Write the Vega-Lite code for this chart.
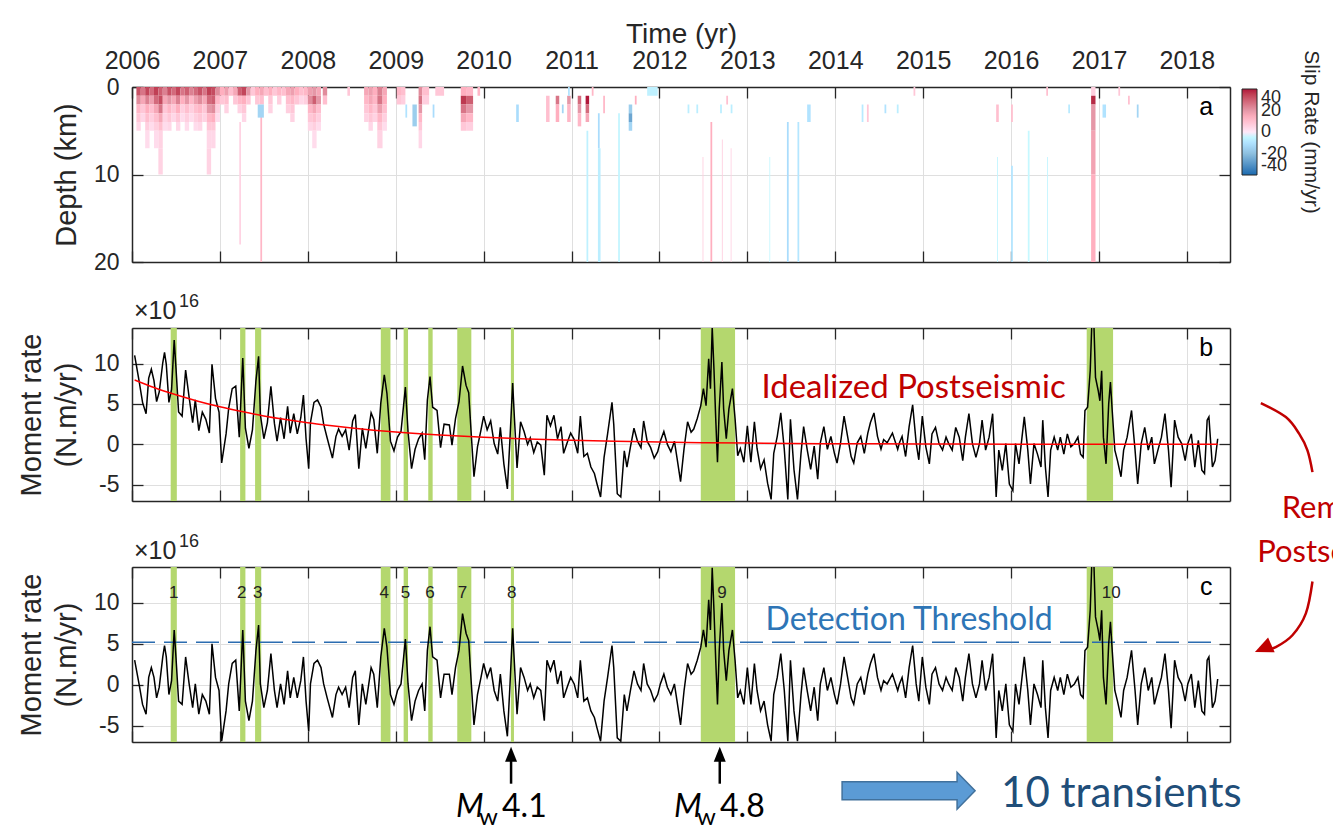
{
  "$schema": "https://vega.github.io/schema/vega-lite/v6.json",
  "background": "white",
  "autosize": {"type": "pad"},
  "padding": {"left": 17, "top": 20, "right": 0, "bottom": 0},
  "config": {
    "font": "Liberation Sans",
    "view": {"stroke": null},
    "axis": {
      "domain": true, "domainColor": "#262626", "domainWidth": 1.5,
      "tickColor": "#262626", "tickSize": -11, "tickWidth": 1.3,
      "gridColor": "#dfdfdf", "gridWidth": 1,
      "labelColor": "#262626", "labelFont": "Liberation Sans",
      "titleColor": "#262626", "titleFont": "Liberation Sans", "titleFontWeight": "normal",
      "labelFlush": false, "labelOverlap": false, "zindex": 1
    }
  },
  "spacing": 66,
  "bounds": "flush",
  "resolve": {"scale": {"color": "independent"}, "legend": {"color": "independent"}},
  "datasets": {
    "slip": [
      {"t0":2006.05,"t1":2006.1,"d0":0,"d1":1,"v":32},{"t0":2006.05,"t1":2006.1,"d0":1,"d1":2,"v":22},{"t0":2006.05,"t1":2006.1,"d0":2,"d1":3,"v":12},{"t0":2006.05,"t1":2006.1,"d0":3,"d1":4,"v":8},{"t0":2006.05,"t1":2006.1,"d0":4,"d1":5,"v":4},
      {"t0":2006.1,"t1":2006.15,"d0":0,"d1":1,"v":26},{"t0":2006.1,"t1":2006.15,"d0":1,"d1":2,"v":16},{"t0":2006.1,"t1":2006.15,"d0":2,"d1":3,"v":8},{"t0":2006.1,"t1":2006.15,"d0":3,"d1":4,"v":4},
      {"t0":2006.15,"t1":2006.2,"d0":0,"d1":1,"v":34},{"t0":2006.15,"t1":2006.2,"d0":1,"d1":2,"v":24},{"t0":2006.15,"t1":2006.2,"d0":2,"d1":3,"v":14},{"t0":2006.15,"t1":2006.2,"d0":3,"d1":4,"v":10},{"t0":2006.15,"t1":2006.2,"d0":4,"d1":5,"v":6},{"t0":2006.15,"t1":2006.2,"d0":5,"d1":7,"v":3},
      {"t0":2006.2,"t1":2006.25,"d0":0,"d1":1,"v":28},{"t0":2006.2,"t1":2006.25,"d0":1,"d1":2,"v":18},{"t0":2006.2,"t1":2006.25,"d0":2,"d1":3,"v":10},{"t0":2006.2,"t1":2006.25,"d0":3,"d1":4,"v":6},{"t0":2006.2,"t1":2006.25,"d0":4,"d1":5,"v":3},
      {"t0":2006.25,"t1":2006.3,"d0":0,"d1":1,"v":35},{"t0":2006.25,"t1":2006.3,"d0":1,"d1":2,"v":28},{"t0":2006.25,"t1":2006.3,"d0":2,"d1":3,"v":16},{"t0":2006.25,"t1":2006.3,"d0":3,"d1":4,"v":10},{"t0":2006.25,"t1":2006.3,"d0":4,"d1":5,"v":6},{"t0":2006.25,"t1":2006.3,"d0":5,"d1":7,"v":3},
      {"t0":2006.3,"t1":2006.35,"d0":0,"d1":1,"v":30},{"t0":2006.3,"t1":2006.35,"d0":1,"d1":2,"v":33},{"t0":2006.3,"t1":2006.35,"d0":2,"d1":3,"v":26},{"t0":2006.3,"t1":2006.35,"d0":3,"d1":4,"v":16},{"t0":2006.3,"t1":2006.35,"d0":4,"d1":5,"v":10},{"t0":2006.3,"t1":2006.35,"d0":5,"d1":7,"v":5},{"t0":2006.3,"t1":2006.35,"d0":7,"d1":10,"v":5},
      {"t0":2006.35,"t1":2006.4,"d0":0,"d1":1,"v":24},{"t0":2006.35,"t1":2006.4,"d0":1,"d1":2,"v":16},{"t0":2006.35,"t1":2006.4,"d0":2,"d1":3,"v":8},{"t0":2006.35,"t1":2006.4,"d0":3,"d1":4,"v":5},{"t0":2006.35,"t1":2006.4,"d0":4,"d1":5,"v":3},
      {"t0":2006.4,"t1":2006.45,"d0":0,"d1":1,"v":32},{"t0":2006.4,"t1":2006.45,"d0":1,"d1":2,"v":20},{"t0":2006.4,"t1":2006.45,"d0":2,"d1":3,"v":12},{"t0":2006.4,"t1":2006.45,"d0":3,"d1":4,"v":8},{"t0":2006.4,"t1":2006.45,"d0":4,"d1":5,"v":4},
      {"t0":2006.45,"t1":2006.5,"d0":0,"d1":1,"v":28},{"t0":2006.45,"t1":2006.5,"d0":1,"d1":2,"v":16},{"t0":2006.45,"t1":2006.5,"d0":2,"d1":3,"v":8},{"t0":2006.45,"t1":2006.5,"d0":3,"d1":4,"v":4},
      {"t0":2006.5,"t1":2006.55,"d0":0,"d1":1,"v":34},{"t0":2006.5,"t1":2006.55,"d0":1,"d1":2,"v":24},{"t0":2006.5,"t1":2006.55,"d0":2,"d1":3,"v":14},{"t0":2006.5,"t1":2006.55,"d0":3,"d1":4,"v":8},{"t0":2006.5,"t1":2006.55,"d0":4,"d1":5,"v":4},
      {"t0":2006.55,"t1":2006.6,"d0":0,"d1":1,"v":26},{"t0":2006.55,"t1":2006.6,"d0":1,"d1":2,"v":14},{"t0":2006.55,"t1":2006.6,"d0":2,"d1":3,"v":6},{"t0":2006.55,"t1":2006.6,"d0":3,"d1":4,"v":3},
      {"t0":2006.6,"t1":2006.65,"d0":0,"d1":1,"v":30},{"t0":2006.6,"t1":2006.65,"d0":1,"d1":2,"v":20},{"t0":2006.6,"t1":2006.65,"d0":2,"d1":3,"v":10},{"t0":2006.6,"t1":2006.65,"d0":3,"d1":4,"v":6},{"t0":2006.6,"t1":2006.65,"d0":4,"d1":5,"v":3},
      {"t0":2006.65,"t1":2006.7,"d0":0,"d1":1,"v":24},{"t0":2006.65,"t1":2006.7,"d0":1,"d1":2,"v":12},{"t0":2006.65,"t1":2006.7,"d0":2,"d1":3,"v":6},{"t0":2006.65,"t1":2006.7,"d0":3,"d1":4,"v":3},
      {"t0":2006.7,"t1":2006.75,"d0":0,"d1":1,"v":28},{"t0":2006.7,"t1":2006.75,"d0":1,"d1":2,"v":18},{"t0":2006.7,"t1":2006.75,"d0":2,"d1":3,"v":10},{"t0":2006.7,"t1":2006.75,"d0":3,"d1":4,"v":6},{"t0":2006.7,"t1":2006.75,"d0":4,"d1":5,"v":3},
      {"t0":2006.75,"t1":2006.8,"d0":0,"d1":1,"v":32},{"t0":2006.75,"t1":2006.8,"d0":1,"d1":2,"v":22},{"t0":2006.75,"t1":2006.8,"d0":2,"d1":3,"v":12},{"t0":2006.75,"t1":2006.8,"d0":3,"d1":4,"v":8},{"t0":2006.75,"t1":2006.8,"d0":4,"d1":5,"v":4},
      {"t0":2006.8,"t1":2006.85,"d0":0,"d1":1,"v":26},{"t0":2006.8,"t1":2006.85,"d0":1,"d1":2,"v":16},{"t0":2006.8,"t1":2006.85,"d0":2,"d1":3,"v":8},{"t0":2006.8,"t1":2006.85,"d0":3,"d1":4,"v":5},
      {"t0":2006.85,"t1":2006.9,"d0":0,"d1":1,"v":35},{"t0":2006.85,"t1":2006.9,"d0":1,"d1":2,"v":28},{"t0":2006.85,"t1":2006.9,"d0":2,"d1":3,"v":20},{"t0":2006.85,"t1":2006.9,"d0":3,"d1":4,"v":12},{"t0":2006.85,"t1":2006.9,"d0":4,"d1":5,"v":8},{"t0":2006.85,"t1":2006.9,"d0":5,"d1":7,"v":4},{"t0":2006.85,"t1":2006.9,"d0":7,"d1":10,"v":5},
      {"t0":2006.9,"t1":2006.95,"d0":0,"d1":1,"v":33},{"t0":2006.9,"t1":2006.95,"d0":1,"d1":2,"v":30},{"t0":2006.9,"t1":2006.95,"d0":2,"d1":3,"v":22},{"t0":2006.9,"t1":2006.95,"d0":3,"d1":4,"v":14},{"t0":2006.9,"t1":2006.95,"d0":4,"d1":5,"v":8},{"t0":2006.9,"t1":2006.95,"d0":5,"d1":7,"v":4},
      {"t0":2006.95,"t1":2007.0,"d0":0,"d1":1,"v":22},{"t0":2006.95,"t1":2007.0,"d0":1,"d1":2,"v":12},{"t0":2006.95,"t1":2007.0,"d0":2,"d1":3,"v":6},{"t0":2006.95,"t1":2007.0,"d0":3,"d1":4,"v":3},
      {"t0":2007.0,"t1":2007.05,"d0":0,"d1":1,"v":14},{"t0":2007.0,"t1":2007.05,"d0":1,"d1":2,"v":8},
      {"t0":2007.05,"t1":2007.1,"d0":0,"d1":1,"v":18},{"t0":2007.05,"t1":2007.1,"d0":1,"d1":2,"v":10},{"t0":2007.05,"t1":2007.1,"d0":2,"d1":3,"v":5},
      {"t0":2007.1,"t1":2007.15,"d0":0,"d1":1,"v":10},
      {"t0":2007.15,"t1":2007.2,"d0":0,"d1":1,"v":16},{"t0":2007.15,"t1":2007.2,"d0":1,"d1":2,"v":8},
      {"t0":2007.2,"t1":2007.25,"d0":0,"d1":1,"v":30},{"t0":2007.2,"t1":2007.25,"d0":1,"d1":2,"v":12},{"t0":2007.2,"t1":2007.25,"d0":2,"d1":3,"v":5},
      {"t0":2007.25,"t1":2007.3,"d0":0,"d1":1,"v":34},{"t0":2007.25,"t1":2007.3,"d0":1,"d1":2,"v":14},{"t0":2007.25,"t1":2007.3,"d0":2,"d1":3,"v":8},{"t0":2007.25,"t1":2007.3,"d0":3,"d1":4,"v":4},
      {"t0":2007.3,"t1":2007.35,"d0":0,"d1":1,"v":20},{"t0":2007.3,"t1":2007.35,"d0":1,"d1":2,"v":8},
      {"t0":2007.35,"t1":2007.4,"d0":0,"d1":1,"v":8},
      {"t0":2007.4,"t1":2007.45,"d0":0,"d1":1,"v":14},{"t0":2007.4,"t1":2007.45,"d0":1,"d1":2,"v":8},
      {"t0":2007.45,"t1":2007.5,"d0":0,"d1":1,"v":16},{"t0":2007.45,"t1":2007.5,"d0":1,"d1":2,"v":10},
      {"t0":2007.5,"t1":2007.55,"d0":0,"d1":1,"v":10},
      {"t0":2007.55,"t1":2007.6,"d0":0,"d1":1,"v":14},{"t0":2007.55,"t1":2007.6,"d0":1,"d1":2,"v":8},{"t0":2007.55,"t1":2007.6,"d0":2,"d1":3,"v":5},
      {"t0":2007.6,"t1":2007.65,"d0":0,"d1":1,"v":8},
      {"t0":2007.65,"t1":2007.7,"d0":0,"d1":1,"v":12},{"t0":2007.65,"t1":2007.7,"d0":1,"d1":2,"v":6},
      {"t0":2007.7,"t1":2007.75,"d0":0,"d1":1,"v":10},
      {"t0":2007.75,"t1":2007.8,"d0":0,"d1":1,"v":16},{"t0":2007.75,"t1":2007.8,"d0":1,"d1":2,"v":10},{"t0":2007.75,"t1":2007.8,"d0":2,"d1":3,"v":6},
      {"t0":2007.8,"t1":2007.85,"d0":0,"d1":1,"v":18},{"t0":2007.8,"t1":2007.85,"d0":1,"d1":2,"v":12},{"t0":2007.8,"t1":2007.85,"d0":2,"d1":3,"v":8},{"t0":2007.8,"t1":2007.85,"d0":3,"d1":4,"v":5},
      {"t0":2007.85,"t1":2007.9,"d0":0,"d1":1,"v":14},{"t0":2007.85,"t1":2007.9,"d0":1,"d1":2,"v":8},
      {"t0":2007.9,"t1":2007.95,"d0":0,"d1":1,"v":10},{"t0":2007.9,"t1":2007.95,"d0":1,"d1":2,"v":4},
      {"t0":2007.95,"t1":2008.0,"d0":0,"d1":1,"v":12},{"t0":2007.95,"t1":2008.0,"d0":1,"d1":2,"v":6},
      {"t0":2007.46,"t1":2007.48,"d0":3,"d1":20,"v":12},
      {"t0":2007.22,"t1":2007.24,"d0":4,"d1":18,"v":5},
      {"t0":2007.43,"t1":2007.5,"d0":2,"d1":3.5,"v":-14},
      {"t0":2008.0,"t1":2008.05,"d0":0,"d1":1,"v":18},{"t0":2008.0,"t1":2008.05,"d0":1,"d1":2,"v":22},{"t0":2008.0,"t1":2008.05,"d0":2,"d1":3,"v":12},{"t0":2008.0,"t1":2008.05,"d0":3,"d1":4,"v":8},{"t0":2008.0,"t1":2008.05,"d0":4,"d1":5,"v":4},
      {"t0":2008.05,"t1":2008.1,"d0":0,"d1":1,"v":20},{"t0":2008.05,"t1":2008.1,"d0":1,"d1":2,"v":30},{"t0":2008.05,"t1":2008.1,"d0":2,"d1":3,"v":16},{"t0":2008.05,"t1":2008.1,"d0":3,"d1":4,"v":10},{"t0":2008.05,"t1":2008.1,"d0":4,"d1":5,"v":6},{"t0":2008.05,"t1":2008.1,"d0":5,"d1":7,"v":3},
      {"t0":2008.1,"t1":2008.15,"d0":0,"d1":1,"v":16},{"t0":2008.1,"t1":2008.15,"d0":1,"d1":2,"v":20},{"t0":2008.1,"t1":2008.15,"d0":2,"d1":3,"v":10},{"t0":2008.1,"t1":2008.15,"d0":3,"d1":4,"v":6},{"t0":2008.1,"t1":2008.15,"d0":4,"d1":5,"v":3},
      {"t0":2008.17,"t1":2008.22,"d0":0,"d1":1,"v":22},{"t0":2008.17,"t1":2008.22,"d0":1,"d1":2,"v":10},
      {"t0":2008.45,"t1":2008.48,"d0":0,"d1":1,"v":8},
      {"t0":2008.64,"t1":2008.69,"d0":0,"d1":1,"v":16},{"t0":2008.64,"t1":2008.69,"d0":1,"d1":2,"v":12},{"t0":2008.64,"t1":2008.69,"d0":2,"d1":3,"v":8},{"t0":2008.64,"t1":2008.69,"d0":3,"d1":4,"v":5},
      {"t0":2008.69,"t1":2008.74,"d0":0,"d1":1,"v":18},{"t0":2008.69,"t1":2008.74,"d0":1,"d1":2,"v":16},{"t0":2008.69,"t1":2008.74,"d0":2,"d1":3,"v":12},{"t0":2008.69,"t1":2008.74,"d0":3,"d1":4,"v":8},{"t0":2008.69,"t1":2008.74,"d0":4,"d1":5,"v":4},
      {"t0":2008.74,"t1":2008.79,"d0":0,"d1":1,"v":14},{"t0":2008.74,"t1":2008.79,"d0":1,"d1":2,"v":12},{"t0":2008.74,"t1":2008.79,"d0":2,"d1":3,"v":8},{"t0":2008.74,"t1":2008.79,"d0":3,"d1":4,"v":5},
      {"t0":2008.79,"t1":2008.85,"d0":0,"d1":1,"v":24},{"t0":2008.79,"t1":2008.85,"d0":1,"d1":2,"v":26},{"t0":2008.79,"t1":2008.85,"d0":2,"d1":3,"v":18},{"t0":2008.79,"t1":2008.85,"d0":3,"d1":4,"v":12},{"t0":2008.79,"t1":2008.85,"d0":4,"d1":5,"v":8},{"t0":2008.79,"t1":2008.85,"d0":5,"d1":7,"v":5},
      {"t0":2008.85,"t1":2008.9,"d0":0,"d1":1,"v":16},{"t0":2008.85,"t1":2008.9,"d0":1,"d1":2,"v":14},{"t0":2008.85,"t1":2008.9,"d0":2,"d1":3,"v":10},{"t0":2008.85,"t1":2008.9,"d0":3,"d1":4,"v":6},{"t0":2008.85,"t1":2008.9,"d0":4,"d1":5,"v":3},
      {"t0":2009.01,"t1":2009.06,"d0":0,"d1":1,"v":12},{"t0":2009.01,"t1":2009.06,"d0":1,"d1":2,"v":8},
      {"t0":2009.06,"t1":2009.11,"d0":0,"d1":1,"v":10},{"t0":2009.06,"t1":2009.11,"d0":1,"d1":2,"v":6},
      {"t0":2009.11,"t1":2009.13,"d0":2,"d1":3.5,"v":-10},
      {"t0":2009.19,"t1":2009.24,"d0":2,"d1":4.5,"v":-16},
      {"t0":2009.26,"t1":2009.3,"d0":0,"d1":1,"v":22},{"t0":2009.26,"t1":2009.3,"d0":1,"d1":2,"v":26},{"t0":2009.26,"t1":2009.3,"d0":2,"d1":3,"v":20},{"t0":2009.26,"t1":2009.3,"d0":3,"d1":4,"v":12},{"t0":2009.26,"t1":2009.3,"d0":4,"d1":5,"v":8},{"t0":2009.26,"t1":2009.3,"d0":5,"d1":7,"v":4},
      {"t0":2009.3,"t1":2009.38,"d0":0,"d1":1,"v":10},{"t0":2009.3,"t1":2009.38,"d0":1,"d1":2,"v":6},
      {"t0":2009.42,"t1":2009.44,"d0":2,"d1":3.5,"v":-12},
      {"t0":2009.45,"t1":2009.55,"d0":0,"d1":1,"v":8},
      {"t0":2009.74,"t1":2009.8,"d0":0,"d1":1,"v":14},{"t0":2009.74,"t1":2009.8,"d0":1,"d1":2,"v":36},{"t0":2009.74,"t1":2009.8,"d0":2,"d1":3,"v":26},{"t0":2009.74,"t1":2009.8,"d0":3,"d1":4,"v":16},{"t0":2009.74,"t1":2009.8,"d0":4,"d1":5,"v":8},
      {"t0":2009.8,"t1":2009.88,"d0":0,"d1":1,"v":12},{"t0":2009.8,"t1":2009.88,"d0":1,"d1":2,"v":30},{"t0":2009.8,"t1":2009.88,"d0":2,"d1":3,"v":20},{"t0":2009.8,"t1":2009.88,"d0":3,"d1":4,"v":12},{"t0":2009.8,"t1":2009.88,"d0":4,"d1":5,"v":6},
      {"t0":2009.93,"t1":2009.96,"d0":0,"d1":1,"v":12},
      {"t0":2010.37,"t1":2010.4,"d0":2,"d1":4,"v":-12},
      {"t0":2010.71,"t1":2010.75,"d0":1,"d1":4,"v":10},
      {"t0":2010.82,"t1":2010.86,"d0":1,"d1":2,"v":26},{"t0":2010.82,"t1":2010.86,"d0":2,"d1":4,"v":14},
      {"t0":2010.89,"t1":2010.91,"d0":2,"d1":3,"v":-14},
      {"t0":2010.95,"t1":2010.99,"d0":1,"d1":2,"v":20},{"t0":2010.95,"t1":2010.99,"d0":2,"d1":4,"v":12},
      {"t0":2010.96,"t1":2010.98,"d0":0,"d1":1,"v":-10},
      {"t0":2011.07,"t1":2011.11,"d0":1,"d1":2,"v":28},{"t0":2011.07,"t1":2011.11,"d0":2,"d1":3,"v":20},{"t0":2011.07,"t1":2011.11,"d0":3,"d1":4.5,"v":12},
      {"t0":2011.16,"t1":2011.2,"d0":1,"d1":2,"v":40},{"t0":2011.16,"t1":2011.2,"d0":2,"d1":3,"v":28},{"t0":2011.16,"t1":2011.2,"d0":3,"d1":4,"v":16},
      {"t0":2011.23,"t1":2011.25,"d0":0,"d1":1,"v":12},
      {"t0":2011.17,"t1":2011.19,"d0":5,"d1":20,"v":-6},
      {"t0":2011.3,"t1":2011.32,"d0":3,"d1":7,"v":-12},
      {"t0":2011.3,"t1":2011.33,"d0":7,"d1":20,"v":-7},
      {"t0":2011.36,"t1":2011.38,"d0":1,"d1":3,"v":12},
      {"t0":2011.53,"t1":2011.55,"d0":3,"d1":20,"v":-5},
      {"t0":2011.65,"t1":2011.69,"d0":2,"d1":3,"v":-16},{"t0":2011.65,"t1":2011.69,"d0":3,"d1":4,"v":-26},{"t0":2011.65,"t1":2011.69,"d0":4,"d1":5,"v":-14},
      {"t0":2011.72,"t1":2011.74,"d0":1,"d1":2,"v":14},
      {"t0":2011.86,"t1":2011.98,"d0":0,"d1":1,"v":-6},
      {"t0":2012.32,"t1":2012.34,"d0":2,"d1":3,"v":-7},{"t0":2012.42,"t1":2012.44,"d0":2,"d1":3,"v":-7},{"t0":2012.69,"t1":2012.71,"d0":2,"d1":3,"v":-7},{"t0":2012.81,"t1":2012.83,"d0":2,"d1":3,"v":-7},
      {"t0":2012.58,"t1":2012.6,"d0":4,"d1":20,"v":14},
      {"t0":2012.49,"t1":2012.5,"d0":8,"d1":20,"v":6},
      {"t0":2012.71,"t1":2012.72,"d0":6,"d1":20,"v":6},
      {"t0":2012.81,"t1":2012.82,"d0":7,"d1":20,"v":5},
      {"t0":2012.76,"t1":2012.78,"d0":1,"d1":2,"v":10},
      {"t0":2013.45,"t1":2013.47,"d0":4,"d1":20,"v":-12},
      {"t0":2013.57,"t1":2013.59,"d0":4,"d1":20,"v":-9},
      {"t0":2013.25,"t1":2013.26,"d0":8,"d1":20,"v":-4},
      {"t0":2013.68,"t1":2013.72,"d0":2,"d1":4,"v":-10},
      {"t0":2014.3,"t1":2014.32,"d0":2,"d1":4,"v":-8},
      {"t0":2014.36,"t1":2014.38,"d0":2,"d1":4,"v":8},
      {"t0":2014.56,"t1":2014.58,"d0":2,"d1":3,"v":-10},
      {"t0":2014.7,"t1":2014.72,"d0":2,"d1":3,"v":-7},
      {"t0":2014.89,"t1":2014.91,"d0":0,"d1":1,"v":8},
      {"t0":2015.83,"t1":2015.86,"d0":2,"d1":4,"v":10},
      {"t0":2015.84,"t1":2015.85,"d0":8,"d1":20,"v":-5},
      {"t0":2016.0,"t1":2016.02,"d0":2,"d1":4,"v":10},
      {"t0":2016.0,"t1":2016.02,"d0":9,"d1":20,"v":-9},
      {"t0":2016.19,"t1":2016.21,"d0":5,"d1":20,"v":-4},
      {"t0":2016.4,"t1":2016.42,"d0":0,"d1":1,"v":10},
      {"t0":2016.41,"t1":2016.42,"d0":8,"d1":20,"v":-5},
      {"t0":2016.65,"t1":2016.67,"d0":2,"d1":3,"v":-8},
      {"t0":2016.91,"t1":2016.96,"d0":0,"d1":1,"v":6},{"t0":2016.91,"t1":2016.96,"d0":1,"d1":2,"v":38},{"t0":2016.91,"t1":2016.96,"d0":2,"d1":5,"v":20},{"t0":2016.91,"t1":2016.96,"d0":5,"d1":10,"v":17},{"t0":2016.91,"t1":2016.96,"d0":10,"d1":20,"v":14},
      {"t0":2017.04,"t1":2017.08,"d0":2,"d1":3.5,"v":-10},
      {"t0":2017.22,"t1":2017.24,"d0":0,"d1":1,"v":8},
      {"t0":2017.33,"t1":2017.35,"d0":1,"d1":2,"v":10},
      {"t0":2017.43,"t1":2017.45,"d0":2,"d1":3.5,"v":-14}
    ],
    "bands": [
      {"s":2006.44,"e":2006.51,"n":"1","lx":2006.474},
      {"s":2007.23,"e":2007.29,"n":"2","lx":2007.248},
      {"s":2007.4,"e":2007.47,"n":"3","lx":2007.43},
      {"s":2008.83,"e":2008.94,"n":"4","lx":2008.87},
      {"s":2009.09,"e":2009.14,"n":"5","lx":2009.11},
      {"s":2009.37,"e":2009.42,"n":"6","lx":2009.39},
      {"s":2009.7,"e":2009.86,"n":"7","lx":2009.76},
      {"s":2010.31,"e":2010.345,"n":"8","lx":2010.32},
      {"s":2012.47,"e":2012.86,"n":"9","lx":2012.71},
      {"s":2016.86,"e":2017.16,"n":"10","lx":2017.14}
    ],
    "post": [
      {"t":2006.03,"p":7.97},{"t":2006.25,"p":7.04},{"t":2006.5,"p":6.14},{"t":2006.75,"p":5.35},{"t":2007.0,"p":4.66},{"t":2007.25,"p":4.06},{"t":2007.5,"p":3.52},{"t":2007.75,"p":3.07},{"t":2008.0,"p":2.67},{"t":2008.25,"p":2.33},{"t":2008.5,"p":2.02},{"t":2008.75,"p":1.76},{"t":2009.0,"p":1.53},{"t":2009.5,"p":1.16},{"t":2010.0,"p":0.88},{"t":2010.5,"p":0.67},{"t":2011.0,"p":0.5},{"t":2011.5,"p":0.38},{"t":2012.0,"p":0.29},{"t":2012.5,"p":0.22},{"t":2013.0,"p":0.16},{"t":2013.5,"p":0.12},{"t":2014.0,"p":0.09},{"t":2015.0,"p":0.05},{"t":2016.0,"p":0.03},{"t":2017.0,"p":0.02},{"t":2018.35,"p":0.01}
    ],
    "series": [
      {"t":2006.03,"b":11.0,"c":3.0},{"t":2006.08,"b":7.9,"c":0.1},{"t":2006.12,"b":5.2,"c":-2.4},{"t":2006.16,"b":3.8,"c":-3.6},{"t":2006.19,"b":8.2,"c":0.9},{"t":2006.22,"b":9.3,"c":2.1},{"t":2006.25,"b":7.9,"c":0.9},{"t":2006.28,"b":5.3,"c":-1.6},{"t":2006.31,"b":6.5,"c":-0.3},{"t":2006.35,"b":10.1,"c":3.4},{"t":2006.37,"b":11.4,"c":4.8},{"t":2006.39,"b":9.9,"c":3.4},{"t":2006.42,"b":5.2,"c":-1.2},{"t":2006.45,"b":6.8,"c":0.5},{"t":2006.48,"b":12.9,"c":6.7},{"t":2006.5,"b":9.5,"c":3.4},{"t":2006.53,"b":4.0,"c":-2.0},{"t":2006.57,"b":3.5,"c":-2.4},{"t":2006.61,"b":9.2,"c":3.4},{"t":2006.65,"b":5.8,"c":0.1},{"t":2006.69,"b":2.7,"c":-2.8},{"t":2006.72,"b":5.5,"c":0.1},{"t":2006.76,"b":1.7,"c":-3.6},{"t":2006.8,"b":4.0,"c":-1.2},{"t":2006.84,"b":3.1,"c":-2.0},{"t":2006.88,"b":1.4,"c":-3.6},{"t":2006.91,"b":9.9,"c":5.0},{"t":2006.95,"b":5.7,"c":0.9},{"t":2006.99,"b":4.0,"c":-0.7},
      {"t":2007.02,"b":-2.3,"c":-6.9},{"t":2007.07,"b":1.3,"c":-3.2},{"t":2007.1,"b":4.5,"c":0.1},{"t":2007.14,"b":6.9,"c":2.6},{"t":2007.18,"b":7.2,"c":3.0},{"t":2007.22,"b":0.9,"c":-3.2},{"t":2007.26,"b":10.7,"c":6.7},{"t":2007.29,"b":2.0,"c":-2.0},{"t":2007.33,"b":-0.5,"c":-4.4},{"t":2007.37,"b":1.8,"c":-2.0},{"t":2007.41,"b":7.9,"c":4.2},{"t":2007.44,"b":10.9,"c":7.3},{"t":2007.46,"b":3.7,"c":0.1},{"t":2007.5,"b":0.7,"c":-2.8},{"t":2007.54,"b":2.7,"c":-0.7},{"t":2007.58,"b":7.2,"c":3.8},{"t":2007.62,"b":2.6,"c":-0.7},{"t":2007.65,"b":0.4,"c":-2.8},{"t":2007.69,"b":3.3,"c":0.1},{"t":2007.73,"b":0.7,"c":-2.4},{"t":2007.77,"b":4.7,"c":1.7},{"t":2007.8,"b":1.4,"c":-1.6},{"t":2007.84,"b":3.8,"c":0.9},{"t":2007.88,"b":1.3,"c":-1.6},{"t":2007.92,"b":3.3,"c":0.5},{"t":2007.95,"b":6.1,"c":3.4},{"t":2007.98,"b":0.7,"c":-2.0},
      {"t":2008.01,"b":-3.0,"c":-5.7},{"t":2008.03,"b":2.7,"c":0.1},{"t":2008.07,"b":5.2,"c":2.6},{"t":2008.11,"b":5.5,"c":3.0},{"t":2008.15,"b":4.6,"c":2.1},{"t":2008.18,"b":2.5,"c":0.1},{"t":2008.22,"b":0.8,"c":-1.6},{"t":2008.28,"b":-1.7,"c":-4.0},{"t":2008.32,"b":1.0,"c":-1.2},{"t":2008.35,"b":1.9,"c":-0.3},{"t":2008.39,"b":1.0,"c":-1.2},{"t":2008.43,"b":1.8,"c":-0.3},{"t":2008.47,"b":-0.7,"c":-2.8},{"t":2008.51,"b":2.9,"c":0.9},{"t":2008.54,"b":3.7,"c":1.7},{"t":2008.58,"b":-3.0,"c":-4.9},{"t":2008.62,"b":2.0,"c":0.1},{"t":2008.66,"b":-0.5,"c":-2.4},{"t":2008.72,"b":3.9,"c":2.1},{"t":2008.75,"b":3.1,"c":1.3},{"t":2008.79,"b":-1.1,"c":-2.8},{"t":2008.83,"b":5.1,"c":3.4},{"t":2008.87,"b":8.6,"c":6.9},{"t":2008.9,"b":6.3,"c":4.6},{"t":2008.94,"b":0.4,"c":-1.2},{"t":2008.98,"b":-0.8,"c":-2.4},
      {"t":2009.02,"b":0.9,"c":-0.7},{"t":2009.06,"b":1.6,"c":0.1},{"t":2009.09,"b":4.9,"c":3.4},{"t":2009.11,"b":7.1,"c":5.6},{"t":2009.14,"b":1.6,"c":0.1},{"t":2009.18,"b":-3.0,"c":-4.4},{"t":2009.22,"b":-0.6,"c":-2.0},{"t":2009.26,"b":0.7,"c":-0.7},{"t":2009.3,"b":1.4,"c":0.1},{"t":2009.33,"b":-1.9,"c":-3.2},{"t":2009.36,"b":5.5,"c":4.2},{"t":2009.39,"b":8.4,"c":7.1},{"t":2009.42,"b":4.6,"c":3.4},{"t":2009.47,"b":4.2,"c":3.0},{"t":2009.51,"b":-0.4,"c":-1.6},{"t":2009.55,"b":2.5,"c":1.3},{"t":2009.61,"b":2.4,"c":1.3},{"t":2009.64,"b":-0.1,"c":-1.2},{"t":2009.68,"b":3.2,"c":2.1},{"t":2009.72,"b":5.3,"c":4.2},{"t":2009.76,"b":9.7,"c":8.7},{"t":2009.8,"b":7.3,"c":6.3},{"t":2009.83,"b":6.4,"c":5.4},{"t":2009.86,"b":1.1,"c":0.1},{"t":2009.89,"b":-4.0,"c":-4.9},{"t":2009.93,"b":-0.3,"c":-1.2},{"t":2009.97,"b":1.8,"c":0.9},
      {"t":2010.0,"b":3.5,"c":2.6},{"t":2010.04,"b":1.8,"c":0.9},{"t":2010.08,"b":2.9,"c":2.1},{"t":2010.12,"b":0.1,"c":-0.7},{"t":2010.16,"b":-1.2,"c":-2.0},{"t":2010.19,"b":2.1,"c":1.3},{"t":2010.23,"b":-2.4,"c":-3.2},{"t":2010.27,"b":-5.5,"c":-6.3},{"t":2010.3,"b":0.8,"c":0.1},{"t":2010.33,"b":7.6,"c":6.9},{"t":2010.35,"b":3.3,"c":2.6},{"t":2010.38,"b":-2.9,"c":-3.6},{"t":2010.42,"b":2.8,"c":2.1},{"t":2010.46,"b":1.6,"c":0.9},{"t":2010.5,"b":0.0,"c":-0.7},{"t":2010.53,"b":0.8,"c":0.1},{"t":2010.57,"b":-1.0,"c":-1.6},{"t":2010.61,"b":0.3,"c":-0.3},{"t":2010.65,"b":-0.1,"c":-0.7},{"t":2010.69,"b":-3.8,"c":-4.4},{"t":2010.72,"b":3.6,"c":3.0},{"t":2010.76,"b":2.3,"c":1.7},{"t":2010.8,"b":3.6,"c":3.0},{"t":2010.84,"b":0.7,"c":0.1},{"t":2010.88,"b":2.2,"c":1.7},{"t":2010.91,"b":-1.1,"c":-1.6},{"t":2010.95,"b":0.2,"c":-0.3},{"t":2010.99,"b":1.4,"c":0.9},
      {"t":2011.03,"b":0.6,"c":0.1},{"t":2011.07,"b":-1.1,"c":-1.6},{"t":2011.1,"b":3.5,"c":3.0},{"t":2011.14,"b":-1.5,"c":-2.0},{"t":2011.18,"b":-1.1,"c":-1.6},{"t":2011.22,"b":-2.8,"c":-3.2},{"t":2011.26,"b":-3.6,"c":-4.0},{"t":2011.29,"b":-4.9,"c":-5.3},{"t":2011.33,"b":-6.5,"c":-6.9},{"t":2011.37,"b":-1.6,"c":-2.0},{"t":2011.41,"b":1.3,"c":0.9},{"t":2011.46,"b":5.2,"c":4.8},{"t":2011.48,"b":2.5,"c":2.1},{"t":2011.52,"b":-6.1,"c":-6.5},{"t":2011.56,"b":-6.5,"c":-6.9},{"t":2011.6,"b":-0.8,"c":-1.2},{"t":2011.63,"b":-2.8,"c":-3.2},{"t":2011.67,"b":-0.3,"c":-0.7},{"t":2011.71,"b":2.0,"c":1.7},{"t":2011.75,"b":0.4,"c":0.1},{"t":2011.79,"b":-0.4,"c":-0.7},{"t":2011.82,"b":2.9,"c":2.6},{"t":2011.86,"b":0.4,"c":0.1},{"t":2011.9,"b":-0.4,"c":-0.7},{"t":2011.94,"b":-1.7,"c":-2.0},{"t":2011.98,"b":-0.9,"c":-1.2},
      {"t":2012.01,"b":0.4,"c":0.1},{"t":2012.05,"b":1.6,"c":1.3},{"t":2012.09,"b":0.0,"c":-0.3},{"t":2012.13,"b":-0.9,"c":-1.2},{"t":2012.17,"b":0.4,"c":0.1},{"t":2012.2,"b":-1.7,"c":-2.0},{"t":2012.24,"b":-4.6,"c":-4.9},{"t":2012.28,"b":-0.5,"c":-0.7},{"t":2012.32,"b":2.8,"c":2.6},{"t":2012.36,"b":1.5,"c":1.3},{"t":2012.39,"b":1.9,"c":1.7},{"t":2012.43,"b":3.2,"c":3.0},{"t":2012.47,"b":4.8,"c":4.6},{"t":2012.5,"b":6.9,"c":6.7},{"t":2012.53,"b":4.8,"c":4.6},{"t":2012.56,"b":10.6,"c":10.4},{"t":2012.58,"b":6.9,"c":6.7},{"t":2012.6,"b":14.5,"c":14.3},{"t":2012.62,"b":9.3,"c":9.1},{"t":2012.64,"b":3.2,"c":3.0},{"t":2012.66,"b":-2.2,"c":-2.4},{"t":2012.68,"b":4.4,"c":4.2},{"t":2012.71,"b":10.2,"c":10.0},{"t":2012.73,"b":4.4,"c":4.2},{"t":2012.76,"b":0.7,"c":0.5},{"t":2012.79,"b":4.4,"c":4.2},{"t":2012.83,"b":6.9,"c":6.7},{"t":2012.86,"b":3.2,"c":3.0},{"t":2012.89,"b":-1.4,"c":-1.6},{"t":2012.92,"b":-0.5,"c":-0.7},{"t":2012.96,"b":-2.2,"c":-2.4},
      {"t":2013.0,"b":2.3,"c":2.1},{"t":2013.04,"b":-2.2,"c":-2.4},{"t":2013.08,"b":2.8,"c":2.6},{"t":2013.11,"b":-0.5,"c":-0.7},{"t":2013.15,"b":-3.0,"c":-3.2},{"t":2013.19,"b":-1.9,"c":-2.0},{"t":2013.23,"b":-4.8,"c":-4.9},{"t":2013.27,"b":-6.8,"c":-6.9},{"t":2013.3,"b":-1.1,"c":-1.2},{"t":2013.34,"b":1.0,"c":0.9},{"t":2013.38,"b":3.9,"c":3.8},{"t":2013.42,"b":-0.6,"c":-0.7},{"t":2013.46,"b":-6.8,"c":-6.9},{"t":2013.49,"b":3.1,"c":3.0},{"t":2013.53,"b":-3.1,"c":-3.2},{"t":2013.57,"b":-6.8,"c":-6.9},{"t":2013.61,"b":-1.1,"c":-1.2},{"t":2013.64,"b":2.2,"c":2.1},{"t":2013.68,"b":-0.6,"c":-0.7},{"t":2013.72,"b":-3.1,"c":-3.2},{"t":2013.76,"b":-0.2,"c":-0.3},{"t":2013.8,"b":-4.3,"c":-4.4},{"t":2013.83,"b":0.2,"c":0.1},{"t":2013.87,"b":2.2,"c":2.1},{"t":2013.91,"b":-0.6,"c":-0.7},{"t":2013.95,"b":1.0,"c":0.9},{"t":2013.99,"b":-1.1,"c":-1.2},
      {"t":2014.02,"b":-2.3,"c":-2.4},{"t":2014.06,"b":0.2,"c":0.1},{"t":2014.1,"b":3.5,"c":3.4},{"t":2014.14,"b":1.0,"c":0.9},{"t":2014.18,"b":-1.5,"c":-1.6},{"t":2014.21,"b":-2.3,"c":-2.4},{"t":2014.25,"b":0.2,"c":0.1},{"t":2014.29,"b":1.0,"c":0.9},{"t":2014.33,"b":-1.1,"c":-1.2},{"t":2014.37,"b":1.4,"c":1.3},{"t":2014.4,"b":2.7,"c":2.6},{"t":2014.44,"b":3.9,"c":3.8},{"t":2014.48,"b":1.0,"c":0.9},{"t":2014.52,"b":-0.6,"c":-0.7},{"t":2014.55,"b":0.6,"c":0.5},{"t":2014.59,"b":0.2,"c":0.1},{"t":2014.65,"b":1.4,"c":1.3},{"t":2014.71,"b":-0.6,"c":-0.7},{"t":2014.73,"b":0.2,"c":0.1},{"t":2014.76,"b":1.0,"c":0.9},{"t":2014.8,"b":-1.5,"c":-1.6},{"t":2014.84,"b":2.2,"c":2.1},{"t":2014.88,"b":4.9,"c":4.8},{"t":2014.92,"b":0.2,"c":0.1},{"t":2014.95,"b":-1.9,"c":-2.0},{"t":2014.99,"b":3.5,"c":3.4},
      {"t":2015.03,"b":-0.3,"c":-0.3},{"t":2015.07,"b":-2.4,"c":-2.4},{"t":2015.1,"b":1.3,"c":1.3},{"t":2015.14,"b":2.1,"c":2.1},{"t":2015.18,"b":0.1,"c":0.1},{"t":2015.22,"b":-0.7,"c":-0.7},{"t":2015.26,"b":0.9,"c":0.9},{"t":2015.29,"b":0.1,"c":0.1},{"t":2015.33,"b":-0.7,"c":-0.7},{"t":2015.37,"b":2.1,"c":2.1},{"t":2015.41,"b":0.9,"c":0.9},{"t":2015.45,"b":-2.0,"c":-2.0},{"t":2015.48,"b":0.9,"c":0.9},{"t":2015.52,"b":3.8,"c":3.8},{"t":2015.56,"b":0.1,"c":0.1},{"t":2015.6,"b":-1.6,"c":-1.6},{"t":2015.64,"b":0.1,"c":0.1},{"t":2015.67,"b":3.0,"c":3.0},{"t":2015.71,"b":-0.7,"c":-0.7},{"t":2015.75,"b":0.9,"c":0.9},{"t":2015.79,"b":3.8,"c":3.8},{"t":2015.83,"b":-6.5,"c":-6.5},{"t":2015.86,"b":-0.7,"c":-0.7},{"t":2015.9,"b":-3.2,"c":-3.2},{"t":2015.94,"b":0.1,"c":0.1},{"t":2015.98,"b":-4.9,"c":-4.9},
      {"t":2016.02,"b":-5.7,"c":-5.7},{"t":2016.05,"b":0.1,"c":0.1},{"t":2016.09,"b":-2.4,"c":-2.4},{"t":2016.15,"b":3.4,"c":3.4},{"t":2016.19,"b":-0.7,"c":-0.7},{"t":2016.22,"b":-4.9,"c":-4.9},{"t":2016.26,"b":0.1,"c":0.1},{"t":2016.3,"b":-1.2,"c":-1.2},{"t":2016.34,"b":-2.8,"c":-2.8},{"t":2016.36,"b":3.0,"c":3.0},{"t":2016.39,"b":-2.8,"c":-2.8},{"t":2016.42,"b":-6.5,"c":-6.5},{"t":2016.45,"b":-0.7,"c":-0.7},{"t":2016.49,"b":0.9,"c":0.9},{"t":2016.53,"b":-0.7,"c":-0.7},{"t":2016.56,"b":0.9,"c":0.9},{"t":2016.6,"b":-1.2,"c":-1.2},{"t":2016.64,"b":1.3,"c":1.3},{"t":2016.68,"b":-0.3,"c":-0.3},{"t":2016.72,"b":0.1,"c":0.1},{"t":2016.76,"b":0.9,"c":0.9},{"t":2016.79,"b":-1.2,"c":-1.2},{"t":2016.82,"b":-1.6,"c":-1.6},{"t":2016.84,"b":4.2,"c":4.2},{"t":2016.87,"b":4.6,"c":4.6},{"t":2016.9,"b":9.1,"c":9.1},{"t":2016.92,"b":15.5,"c":15.5},{"t":2016.94,"b":15.5,"c":15.5},{"t":2016.96,"b":8.3,"c":8.3},{"t":2016.99,"b":6.7,"c":6.7},
      {"t":2017.01,"b":5.4,"c":5.4},{"t":2017.03,"b":9.1,"c":9.1},{"t":2017.05,"b":0.9,"c":0.9},{"t":2017.08,"b":-2.4,"c":-2.4},{"t":2017.11,"b":5.0,"c":5.0},{"t":2017.13,"b":7.7,"c":7.7},{"t":2017.15,"b":4.2,"c":4.2},{"t":2017.18,"b":-0.7,"c":-0.7},{"t":2017.21,"b":-2.0,"c":-2.0},{"t":2017.25,"b":-4.0,"c":-4.0},{"t":2017.28,"b":-0.7,"c":-0.7},{"t":2017.32,"b":0.9,"c":0.9},{"t":2017.37,"b":4.2,"c":4.2},{"t":2017.41,"b":-0.7,"c":-0.7},{"t":2017.44,"b":-4.9,"c":-4.9},{"t":2017.48,"b":0.1,"c":0.1},{"t":2017.52,"b":2.1,"c":2.1},{"t":2017.56,"b":-0.7,"c":-0.7},{"t":2017.6,"b":0.9,"c":0.9},{"t":2017.63,"b":-2.4,"c":-2.4},{"t":2017.67,"b":-0.7,"c":-0.7},{"t":2017.71,"b":0.9,"c":0.9},{"t":2017.75,"b":3.8,"c":3.8},{"t":2017.79,"b":-0.7,"c":-0.7},{"t":2017.82,"b":-5.3,"c":-5.3},{"t":2017.86,"b":3.0,"c":3.0},{"t":2017.9,"b":0.9,"c":0.9},{"t":2017.94,"b":0.1,"c":0.1},{"t":2017.98,"b":-2.0,"c":-2.0},
      {"t":2018.01,"b":0.1,"c":0.1},{"t":2018.05,"b":1.3,"c":1.3},{"t":2018.09,"b":-2.8,"c":-2.8},{"t":2018.13,"b":0.5,"c":0.5},{"t":2018.17,"b":-3.2,"c":-3.2},{"t":2018.2,"b":-3.6,"c":-3.6},{"t":2018.23,"b":3.0,"c":3.0},{"t":2018.25,"b":3.4,"c":3.4},{"t":2018.29,"b":-2.8,"c":-2.8},{"t":2018.32,"b":-2.0,"c":-2.0},{"t":2018.35,"b":0.7,"c":0.7}
    ]
  },
  "vconcat": [
    {
      "width": 1098,
      "height": 175,
      "layer": [
        {
          "data": {"name": "slip"},
          "mark": {"type": "rect"},
          "encoding": {
            "x": {"field": "t0", "type": "quantitative",
                  "scale": {"domain": [2006, 2018.49], "nice": false, "zero": false},
                  "axis": {"orient": "top", "values": [2006,2007,2008,2009,2010,2011,2012,2013,2014,2015,2016,2017,2018], "format": "d", "grid": true, "title": "Time (yr)", "labelFontSize": 25, "labelPadding": 25, "titleFontSize": 28, "titlePadding": 0}},
            "x2": {"field": "t1"},
            "y": {"field": "d0", "type": "quantitative",
                  "scale": {"domain": [0, 20], "reverse": true, "nice": false, "zero": false},
                  "axis": {"orient": "left", "values": [0, 10, 20], "grid": true, "title": "Depth (km)", "labelFontSize": 23, "labelPadding": 24, "titleFontSize": 29, "titlePadding": 12}},
            "y2": {"field": "d1"},
            "color": {"field": "v", "type": "quantitative",
                      "scale": {"domain": [-40, -20, 0, 20, 40], "range": ["#1a6aaf", "#8ec0df", "#ffffff", "#e597a7", "#b0173a"]},
                      "legend": {"orient": "none", "legendX": 1110, "legendY": 2, "direction": "vertical", "gradientLength": 86, "gradientThickness": 15, "gradientStrokeColor": "#262626", "gradientStrokeWidth": 1, "values": [40, 20, 0, -20, -40], "labelExpr": "'' + datum.value", "labelFontSize": 18, "labelFont": "Liberation Sans", "labelColor": "#262626", "labelOffset": 4, "labelOverlap": false, "title": "Slip Rate (mm/yr)", "titleFontSize": 21, "titleFont": "Liberation Sans", "titleFontWeight": "normal", "titleColor": "#262626", "titleOrient": "right", "titleAngle": 270, "titleAnchor": "middle", "titleBaseline": "middle", "titlePadding": 24}}
          }
        },
        {
          "data": {"values": [{"t": 2018.22, "d": 3.2, "tag": "a"}]},
          "mark": {"type": "text", "fontSize": 25, "baseline": "alphabetic", "align": "center", "color": "#000000"},
          "encoding": {
            "x": {"field": "t", "type": "quantitative", "scale": {"domain": [2006, 2018.49], "nice": false, "zero": false},
                  "axis": {"orient": "bottom", "values": [2006,2007,2008,2009,2010,2011,2012,2013,2014,2015,2016,2017,2018], "labels": false, "grid": false, "title": null}},
            "y": {"field": "d", "type": "quantitative", "scale": {"domain": [0, 20], "reverse": true, "nice": false, "zero": false},
                  "axis": {"orient": "right", "values": [0, 10, 20], "labels": false, "grid": false, "title": null}},
            "text": {"field": "tag"}
          }
        }
      ],
      "resolve": {"axis": {"x": "independent", "y": "independent"}}
    },
    {
      "width": 1098,
      "height": 173,
      "layer": [
        {
          "data": {"name": "bands"},
          "mark": {"type": "rect", "color": "#b4d76e"},
          "encoding": {
            "x": {"field": "s", "type": "quantitative", "scale": {"domain": [2006, 2018.49], "nice": false, "zero": false},
                  "axis": {"orient": "bottom", "values": [2006,2007,2008,2009,2010,2011,2012,2013,2014,2015,2016,2017,2018], "labels": false, "ticks": false, "domain": false, "grid": true, "title": null, "zindex": 0}},
            "x2": {"field": "e"}
          }
        },
        {
          "data": {"name": "series"},
          "mark": {"type": "line", "color": "#000000", "strokeWidth": 1.5, "clip": true},
          "encoding": {
            "x": {"field": "t", "type": "quantitative", "scale": {"domain": [2006, 2018.49], "nice": false, "zero": false},
                  "axis": {"orient": "bottom", "values": [2006,2007,2008,2009,2010,2011,2012,2013,2014,2015,2016,2017,2018], "labels": false, "grid": false, "title": null}},
            "y": {"field": "b", "type": "quantitative", "scale": {"domain": [-7, 14.4], "nice": false, "zero": false},
                  "axis": {"orient": "left", "values": [-5, 0, 5, 10], "labelExpr": "'' + datum.value", "grid": false, "title": ["Moment rate", "(N.m/yr)"], "titleLineHeight": 35, "labelFontSize": 23, "labelPadding": 24, "titleFontSize": 29, "titlePadding": 12}}
          }
        },
        {
          "data": {"name": "post"},
          "mark": {"type": "line", "color": "#ff0000", "strokeWidth": 1.5, "interpolate": "monotone"},
          "encoding": {
            "x": {"field": "t", "type": "quantitative", "scale": {"domain": [2006, 2018.49], "nice": false, "zero": false},
                  "axis": {"orient": "top", "values": [2006,2007,2008,2009,2010,2011,2012,2013,2014,2015,2016,2017,2018], "labels": false, "grid": false, "title": null}},
            "y": {"field": "p", "type": "quantitative", "scale": {"domain": [-7, 14.4], "nice": false, "zero": false},
                  "axis": {"orient": "left", "values": [-5, 0, 5, 10], "labels": false, "ticks": false, "domain": false, "grid": true, "title": null, "zindex": 0}}
          }
        },
        {
          "data": {"values": [{"t": 2018.22, "v": 10.9, "tag": "b"}]},
          "mark": {"type": "text", "fontSize": 25, "baseline": "alphabetic", "align": "center", "color": "#000000"},
          "encoding": {
            "x": {"field": "t", "type": "quantitative", "scale": {"domain": [2006, 2018.49], "nice": false, "zero": false}, "axis": null},
            "y": {"field": "v", "type": "quantitative", "scale": {"domain": [-7, 14.4], "nice": false, "zero": false},
                  "axis": {"orient": "right", "values": [-5, 0, 5, 10], "labels": false, "grid": false, "title": null}},
            "text": {"field": "tag"}
          }
        },
        {
          "data": {"values": [{"t": 2006.0, "v": 16.5, "base": "×10", "exp": "16"}]},
          "layer": [
            {"mark": {"type": "text", "fontSize": 25, "align": "left", "baseline": "middle", "dx": 2, "color": "#262626"},
             "encoding": {"x": {"field": "t", "type": "quantitative", "scale": {"domain": [2006, 2018.49], "nice": false, "zero": false}, "axis": null},
                          "y": {"field": "v", "type": "quantitative", "scale": {"domain": [-7, 14.4], "nice": false, "zero": false}, "axis": null},
                          "text": {"field": "base"}}},
            {"mark": {"type": "text", "fontSize": 18, "align": "left", "baseline": "middle", "dx": 47, "dy": -9, "color": "#262626"},
             "encoding": {"x": {"field": "t", "type": "quantitative", "axis": null},
                          "y": {"field": "v", "type": "quantitative", "axis": null},
                          "text": {"field": "exp"}}}
          ]
        },
        {
          "data": {"values": [{"t": 2014.89, "v": 5.8, "note": "Idealized Postseismic"}]},
          "mark": {"type": "text", "font": "Lato", "fontSize": 33, "align": "center", "baseline": "alphabetic", "color": "#c00000"},
          "encoding": {
            "x": {"field": "t", "type": "quantitative", "axis": null},
            "y": {"field": "v", "type": "quantitative", "axis": null},
            "text": {"field": "note"}
          }
        },
        {
          "data": {"values": [{"t": 2018.841, "v": 5.12}, {"t": 2019.125, "v": 3.38}, {"t": 2019.276, "v": 1.33}, {"t": 2019.371, "v": -0.74}, {"t": 2019.428, "v": -3.43}]},
          "mark": {"type": "line", "color": "#c00000", "strokeWidth": 2.5, "interpolate": "cardinal"},
          "encoding": {
            "x": {"field": "t", "type": "quantitative", "axis": null},
            "y": {"field": "v", "type": "quantitative", "axis": null}
          }
        },
        {
          "data": {"values": [{"t": 2019.7, "v": -9.05, "note": "Remove"}, {"t": 2019.7, "v": -14.6, "note": "Postseismic"}]},
          "mark": {"type": "text", "font": "Lato", "fontSize": 31, "align": "center", "baseline": "alphabetic", "color": "#c00000"},
          "encoding": {
            "x": {"field": "t", "type": "quantitative", "axis": null},
            "y": {"field": "v", "type": "quantitative", "axis": null},
            "text": {"field": "note"}
          }
        }
      ],
      "resolve": {"axis": {"x": "independent", "y": "independent"}}
    },
    {
      "width": 1098,
      "height": 175,
      "layer": [
        {
          "data": {"name": "bands"},
          "mark": {"type": "rect", "color": "#b4d76e"},
          "encoding": {
            "x": {"field": "s", "type": "quantitative", "scale": {"domain": [2006, 2018.49], "nice": false, "zero": false},
                  "axis": {"orient": "bottom", "values": [2006,2007,2008,2009,2010,2011,2012,2013,2014,2015,2016,2017,2018], "labels": false, "ticks": false, "domain": false, "grid": true, "title": null, "zindex": 0}},
            "x2": {"field": "e"}
          }
        },
        {
          "data": {"values": [{"t": 2006.0, "t2": 2018.3, "v": 5.2}]},
          "mark": {"type": "rule", "color": "#2b6cb0", "strokeWidth": 1.5, "strokeDash": [23, 9]},
          "encoding": {
            "x": {"field": "t", "type": "quantitative", "scale": {"domain": [2006, 2018.49], "nice": false, "zero": false},
                  "axis": {"orient": "top", "values": [2006,2007,2008,2009,2010,2011,2012,2013,2014,2015,2016,2017,2018], "labels": false, "grid": false, "title": null}},
            "x2": {"field": "t2"},
            "y": {"field": "v", "type": "quantitative", "scale": {"domain": [-7, 14.4], "nice": false, "zero": false},
                  "axis": {"orient": "left", "values": [-5, 0, 5, 10], "labels": false, "ticks": false, "domain": false, "grid": true, "title": null, "zindex": 0}}
          }
        },
        {
          "data": {"name": "series"},
          "mark": {"type": "line", "color": "#000000", "strokeWidth": 1.5, "clip": true},
          "encoding": {
            "x": {"field": "t", "type": "quantitative", "scale": {"domain": [2006, 2018.49], "nice": false, "zero": false},
                  "axis": {"orient": "bottom", "values": [2006,2007,2008,2009,2010,2011,2012,2013,2014,2015,2016,2017,2018], "labels": false, "grid": false, "title": null}},
            "y": {"field": "c", "type": "quantitative", "scale": {"domain": [-7, 14.4], "nice": false, "zero": false},
                  "axis": {"orient": "left", "values": [-5, 0, 5, 10], "labelExpr": "'' + datum.value", "grid": false, "title": ["Moment rate", "(N.m/yr)"], "titleLineHeight": 35, "labelFontSize": 23, "labelPadding": 24, "titleFontSize": 29, "titlePadding": 12}}
          }
        },
        {
          "data": {"name": "bands"},
          "mark": {"type": "text", "fontSize": 17, "align": "center", "baseline": "middle", "color": "#222222"},
          "encoding": {
            "x": {"field": "lx", "type": "quantitative", "axis": null},
            "y": {"datum": 11.2, "type": "quantitative", "axis": null},
            "text": {"field": "n"}
          }
        },
        {
          "data": {"values": [{"t": 2018.22, "v": 11.0, "tag": "c"}]},
          "mark": {"type": "text", "fontSize": 25, "baseline": "alphabetic", "align": "center", "color": "#000000"},
          "encoding": {
            "x": {"field": "t", "type": "quantitative", "axis": null},
            "y": {"field": "v", "type": "quantitative", "scale": {"domain": [-7, 14.4], "nice": false, "zero": false},
                  "axis": {"orient": "right", "values": [-5, 0, 5, 10], "labels": false, "grid": false, "title": null}},
            "text": {"field": "tag"}
          }
        },
        {
          "data": {"values": [{"t": 2006.0, "v": 16.3, "base": "×10", "exp": "16"}]},
          "layer": [
            {"mark": {"type": "text", "fontSize": 25, "align": "left", "baseline": "middle", "dx": 2, "color": "#262626"},
             "encoding": {"x": {"field": "t", "type": "quantitative", "axis": null},
                          "y": {"field": "v", "type": "quantitative", "axis": null},
                          "text": {"field": "base"}}},
            {"mark": {"type": "text", "fontSize": 18, "align": "left", "baseline": "middle", "dx": 47, "dy": -9, "color": "#262626"},
             "encoding": {"x": {"field": "t", "type": "quantitative", "axis": null},
                          "y": {"field": "v", "type": "quantitative", "axis": null},
                          "text": {"field": "exp"}}}
          ]
        },
        {
          "data": {"values": [{"t": 2014.84, "v": 6.67, "note": "Detection Threshold"}]},
          "mark": {"type": "text", "font": "Lato", "fontSize": 32, "align": "center", "baseline": "alphabetic", "color": "#2e75b6"},
          "encoding": {
            "x": {"field": "t", "type": "quantitative", "axis": null},
            "y": {"field": "v", "type": "quantitative", "axis": null},
            "text": {"field": "note"}
          }
        },
        {
          "data": {"values": [{"t": 2010.312, "top": -9.1, "bot": -12.1, "head": -8.5}, {"t": 2012.686, "top": -9.1, "bot": -12.1, "head": -8.5}]},
          "layer": [
            {"mark": {"type": "rule", "color": "#000000", "strokeWidth": 2.5},
             "encoding": {"x": {"field": "t", "type": "quantitative", "axis": null},
                          "y": {"field": "top", "type": "quantitative", "axis": null},
                          "y2": {"field": "bot"}}},
            {"mark": {"type": "point", "shape": "M0,-1L0.8,1L-0.8,1Z", "size": 225, "filled": true, "color": "#000000", "opacity": 1},
             "encoding": {"x": {"field": "t", "type": "quantitative", "axis": null},
                          "y": {"field": "head", "type": "quantitative", "axis": null}}}
          ]
        },
        {
          "data": {"values": [{"t": 2009.686, "v": -16.2, "m": "M", "w": "w", "num": "4.1"}, {"t": 2012.166, "v": -16.2, "m": "M", "w": "w", "num": "4.8"}]},
          "layer": [
            {"mark": {"type": "text", "font": "Lato", "fontStyle": "italic", "fontSize": 32, "align": "left", "baseline": "alphabetic", "color": "#000000"},
             "encoding": {"x": {"field": "t", "type": "quantitative", "axis": null},
                          "y": {"field": "v", "type": "quantitative", "axis": null},
                          "text": {"field": "m"}}},
            {"mark": {"type": "text", "font": "Lato", "fontSize": 24, "align": "left", "baseline": "alphabetic", "dx": 23, "dy": 8, "color": "#000000"},
             "encoding": {"x": {"field": "t", "type": "quantitative", "axis": null},
                          "y": {"field": "v", "type": "quantitative", "axis": null},
                          "text": {"field": "w"}}},
            {"mark": {"type": "text", "font": "Lato", "fontSize": 32, "align": "left", "baseline": "alphabetic", "dx": 46, "color": "#000000"},
             "encoding": {"x": {"field": "t", "type": "quantitative", "axis": null},
                          "y": {"field": "v", "type": "quantitative", "axis": null},
                          "text": {"field": "num"}}}
          ]
        },
        {
          "data": {"values": [{"t": 2014.834, "v": -12.96}]},
          "mark": {"type": "point", "shape": "M-1,-0.135L0.729,-0.135L0.729,-0.278L1,0L0.729,0.278L0.729,0.135L-1,0.135Z", "size": 17689, "filled": true, "fill": "#5b9bd5", "stroke": "#41719c", "strokeWidth": 1.5, "opacity": 1},
          "encoding": {
            "x": {"field": "t", "type": "quantitative", "axis": null},
            "y": {"field": "v", "type": "quantitative", "axis": null}
          }
        },
        {
          "data": {"values": [{"t": 2015.886, "v": -14.94, "note": "10 transients"}]},
          "mark": {"type": "text", "font": "Lato", "fontSize": 42, "align": "left", "baseline": "alphabetic", "color": "#1f4e79"},
          "encoding": {
            "x": {"field": "t", "type": "quantitative", "axis": null},
            "y": {"field": "v", "type": "quantitative", "axis": null},
            "text": {"field": "note"}
          }
        },
        {
          "data": {"values": [{"t": 2019.428, "v": 12.63}, {"t": 2019.353, "v": 8.73}, {"t": 2019.2, "v": 6.05}, {"t": 2019.011, "v": 4.6}, {"t": 2018.889, "v": 4.26}]},
          "mark": {"type": "line", "color": "#c00000", "strokeWidth": 2.5, "interpolate": "cardinal"},
          "encoding": {
            "x": {"field": "t", "type": "quantitative", "axis": null},
            "y": {"field": "v", "type": "quantitative", "axis": null}
          }
        },
        {
          "data": {"values": [{"t": 2018.867, "v": 4.44}]},
          "mark": {"type": "point", "shape": "M-1,0L1,-0.9L1,0.9Z", "size": 324, "angle": 336, "filled": true, "color": "#c00000", "opacity": 1},
          "encoding": {
            "x": {"field": "t", "type": "quantitative", "axis": null},
            "y": {"field": "v", "type": "quantitative", "axis": null}
          }
        }
      ],
      "resolve": {"axis": {"x": "independent", "y": "independent"}}
    }
  ]
}
